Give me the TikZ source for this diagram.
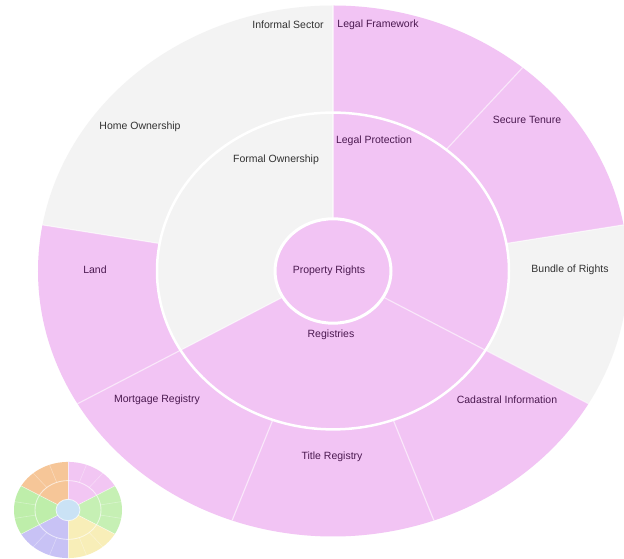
\documentclass[tikz,border=0pt]{standalone}
\usepackage{fontspec}
\setmainfont{Liberation Sans}
\definecolor{pk}{RGB}{242,196,244}
\definecolor{gy}{RGB}{243,243,243}
\definecolor{pktext}{RGB}{75,25,80}
\definecolor{gytext}{RGB}{50,50,50}
\definecolor{mOrange}{RGB}{246,198,152}
\definecolor{mPink}{RGB}{242,198,243}
\definecolor{mGreen}{RGB}{198,240,180}
\definecolor{mGreenB}{RGB}{190,238,170}
\definecolor{mYellow}{RGB}{248,238,184}
\definecolor{mPurple}{RGB}{200,194,245}
\definecolor{mBlue}{RGB}{202,226,245}
\newcommand\ringseg[5]{\fill[#5] (#1:#3) arc[start angle=#1,end angle=#2,radius=#3] -- (#2:#4) arc[start angle=#2,end angle=#1,radius=#4] -- cycle;}
\begin{document}
\begin{tikzpicture}[x=1pt,y=1pt,
  lbl/.style={font=\fontsize{10.5}{12}\selectfont, inner sep=0pt},
  pl/.style={lbl, text=pktext},
  gl/.style={lbl, text=gytext},
  sep/.style={white, line width=1.2pt, opacity=0.55},
  msep/.style={white, line width=0.6pt, opacity=0.6}]
\clip (0,0) rectangle (624,559);
\fill[white] (0,0) rectangle (624,559);
% main sunburst
\begin{scope}[shift={(333,288)}, yscale=0.9]
  % middle ring
  \ringseg{90}{-30}{58}{176}{pk}
  \ringseg{-30}{-150}{58}{176}{pk}
  \ringseg{90}{210}{58}{176}{gy}
  % outer ring
  \ringseg{90}{50}{176}{295}{pk}
  \ringseg{50}{10}{176}{295}{pk}
  \ringseg{10}{-30}{176}{295}{gy}
  \ringseg{-30}{-70}{176}{295}{pk}
  \ringseg{-70}{-110}{176}{295}{pk}
  \ringseg{-110}{-150}{176}{295}{pk}
  \ringseg{170}{210}{176}{295}{pk}
  \ringseg{90}{170}{176}{295}{gy}
  % centre
  \fill[pk] (0,0) circle[radius=58];
  % separators
  \foreach \a in {90,50,10,-30,-70,-110,-150,170}
    \draw[sep] (\a:176) -- (\a:295);
  \foreach \a in {90,-30,210}
    \draw[sep] (\a:58) -- (\a:176);
  \draw[white, line width=3pt] (0,0) circle[radius=58];
  \draw[white, line width=2.5pt] (0,0) circle[radius=176];
\end{scope}
% labels
\node[gl] (inf) at (288,534) {Informal Sector};
\node[pl] (lfw) at (378,534) {Legal Framework};
\node[gl] (home) at (140,432) {Home Ownership};
\node[gl] (formal) at (276,399) {Formal Ownership};
\node[pl] (lprot) at (374,418) {Legal Protection};
\node[pl] (secure) at (527,439) {Secure Tenure};
\node[gl] (bundle) at (570,289) {Bundle of Rights};
\node[pl] (land) at (95,289) {Land};
\node[pl] (prop) at (329,288) {Property Rights};
\node[pl] (reg) at (331,224) {Registries};
\node[pl] (mort) at (157,159) {Mortgage Registry};
\node[pl] (cad) at (507,159) {Cadastral Information};
\node[pl] (title) at (332,102) {Title Registry};
% mini sunburst
\begin{scope}[shift={(68,49)}, yscale=0.89]
  \ringseg{90}{150}{12}{54}{mOrange}
  \ringseg{30}{90}{12}{54}{mPink}
  \ringseg{-30}{30}{12}{54}{mGreen}
  \ringseg{-90}{-30}{12}{54}{mYellow}
  \ringseg{-150}{-90}{12}{54}{mPurple}
  \ringseg{150}{210}{12}{54}{mGreenB}
  \fill[mBlue] (0,0) circle[radius=12];
  \foreach \a in {30,90,150,210,270,330}
    \draw[msep] (\a:12) -- (\a:54);
  \foreach \a in {10,50,70,110,130,170,190,230,250,290,310,350}
    \draw[msep, opacity=0.35] (\a:33) -- (\a:54);
  \draw[msep, line width=0.9pt] (0,0) circle[radius=12];
  \draw[msep, line width=0.9pt] (0,0) circle[radius=33];
\end{scope}
\end{tikzpicture}
\end{document}
